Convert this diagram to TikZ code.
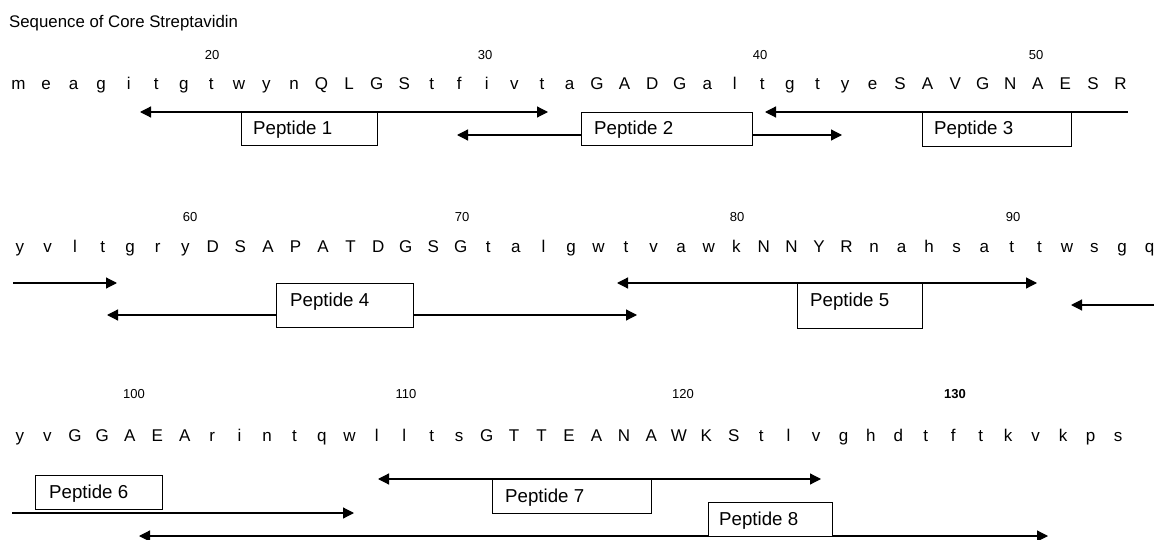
\documentclass[tikz,border=0pt]{standalone}
\usepackage{fontspec}
\setmainfont{Liberation Sans}
\usetikzlibrary{arrows.meta}

\tikzset{
  seqletter/.style={font=\fontsize{17pt}{20pt}\selectfont, inner sep=0pt, anchor=base},
  resnum/.style={font=\fontsize{13pt}{15pt}\selectfont, inner sep=0pt, anchor=base},
  pepbox/.style={draw, fill=white, line width=1.1pt, inner sep=0pt, anchor=north west},
  peplabel/.style={font=\fontsize{18.7pt}{21pt}\selectfont, inner sep=0pt, anchor=base west},
  span/.style={line width=1.2pt},
  >={Triangle[length=11pt,width=11pt]}
}

\begin{document}
\begin{tikzpicture}[x=1pt, y=-1pt]
  \useasboundingbox (0,0) rectangle (1154,540);
  \fill[white] (0,0) rectangle (1154,540);

  % heading
  \node[font=\fontsize{16.8pt}{19pt}\selectfont, inner sep=0pt, anchor=base west] (title) at (9,28) {Sequence of Core Streptavidin};

  % residues 13-53
  \foreach \c [count=\i] in {m,e,a,g,i,t,g,t,w,y,n,Q,L,G,S,t,f,i,v,t,a,G,A,D,G,a,l,t,g,t,y,e,S,A,V,G,N,A,E,S,R}
    \node[seqletter] (ra\i) at ({18.5+(\i-1)*27.55},90) {\c};
  % residues 54-95
  \foreach \c [count=\i] in {y,v,l,t,g,r,y,D,S,A,P,A,T,D,G,S,G,t,a,l,g,w,t,v,a,w,k,N,N,Y,R,n,a,h,s,a,t,t,w,s,g,q}
    \node[seqletter] (rb\i) at ({20+(\i-1)*27.55},252) {\c};
  % residues 96-136
  \foreach \c [count=\i] in {y,v,G,G,A,E,A,r,i,n,t,q,w,l,l,t,s,G,T,T,E,A,N,A,W,K,S,t,l,v,g,h,d,t,f,t,k,v,k,p,s}
    \node[seqletter] (rc\i) at ({20+(\i-1)*27.45},441) {\c};

  % residue numbers
  \node[resnum] (n20) at (212,60) {20};
  \node[resnum] (n30) at (485,60) {30};
  \node[resnum] (n40) at (760,60) {40};
  \node[resnum] (n50) at (1036,60) {50};
  \node[resnum] (n60) at (190,222) {60};
  \node[resnum] (n70) at (462,222) {70};
  \node[resnum] (n80) at (737,222) {80};
  \node[resnum] (n90) at (1013,222) {90};
  \node[resnum] (n100) at (134,398) {100};
  \node[resnum] (n110) at (406,398) {110};
  \node[resnum] (n120) at (683,398) {120};
  \node[resnum, font=\fontsize{13pt}{15pt}\selectfont\bfseries] (n130) at (955,398) {130};

  % end points of the peptide spans
  \coordinate (s1a) at (140,112);  \coordinate (s1b) at (548,112);
  \coordinate (s2a) at (457,135);  \coordinate (s2b) at (842,135);
  \coordinate (s3a) at (765,112);  \coordinate (s3b) at (1128,112);
  \coordinate (s3c) at (13,283);   \coordinate (s3d) at (117,283);
  \coordinate (s4a) at (107,315);  \coordinate (s4b) at (637,315);
  \coordinate (s5a) at (617,283);  \coordinate (s5b) at (1037,283);
  \coordinate (s6a) at (1071,305); \coordinate (s6b) at (1154,305);
  \coordinate (s6c) at (12,513);   \coordinate (s6d) at (354,513);
  \coordinate (s7a) at (378,479);  \coordinate (s7b) at (821,479);
  \coordinate (s8a) at (139,536);  \coordinate (s8b) at (1048,536);

  \draw[span, <->] (s1a) -- (s1b);
  \draw[span, <->] (s2a) -- (s2b);
  \draw[span, <-]  (s3a) -- (s3b);
  \draw[span, ->]  (s3c) -- (s3d);
  \draw[span, <->] (s4a) -- (s4b);
  \draw[span, <->] (s5a) -- (s5b);
  \draw[span, <-]  (s6a) -- (s6b);
  \draw[span, ->]  (s6c) -- (s6d);
  \draw[span, <->] (s7a) -- (s7b);
  \draw[span, <->] (s8a) -- (s8b);

  % peptide boxes
  \node[pepbox, minimum width=136pt, minimum height=33pt] (p1) at (241,112) {};
  \node[pepbox, minimum width=171pt, minimum height=33pt] (p2) at (581,112) {};
  \node[pepbox, minimum width=149pt, minimum height=34pt] (p3) at (922,112) {};
  \node[pepbox, minimum width=137pt, minimum height=44pt] (p4) at (276,283) {};
  \node[pepbox, minimum width=125pt, minimum height=45pt] (p5) at (797,283) {};
  \node[pepbox, minimum width=127pt, minimum height=34pt] (p6) at (35,475) {};
  \node[pepbox, minimum width=159pt, minimum height=34pt] (p7) at (492,479) {};
  \node[pepbox, minimum width=124pt, minimum height=34pt] (p8) at (708,502) {};

  \node[peplabel] (l1) at ([xshift=12pt, yshift=-23pt]p1.north west) {Peptide 1};
  \node[peplabel] (l2) at ([xshift=13pt, yshift=-23pt]p2.north west) {Peptide 2};
  \node[peplabel] (l3) at ([xshift=12pt, yshift=-23pt]p3.north west) {Peptide 3};
  \node[peplabel] (l4) at ([xshift=14pt, yshift=-23pt]p4.north west) {Peptide 4};
  \node[peplabel] (l5) at ([xshift=13pt, yshift=-23pt]p5.north west) {Peptide 5};
  \node[peplabel] (l6) at ([xshift=14pt, yshift=-23pt]p6.north west) {Peptide 6};
  \node[peplabel] (l7) at ([xshift=13pt, yshift=-23pt]p7.north west) {Peptide 7};
  \node[peplabel] (l8) at ([xshift=11pt, yshift=-23pt]p8.north west) {Peptide 8};
\end{tikzpicture}
\end{document}
